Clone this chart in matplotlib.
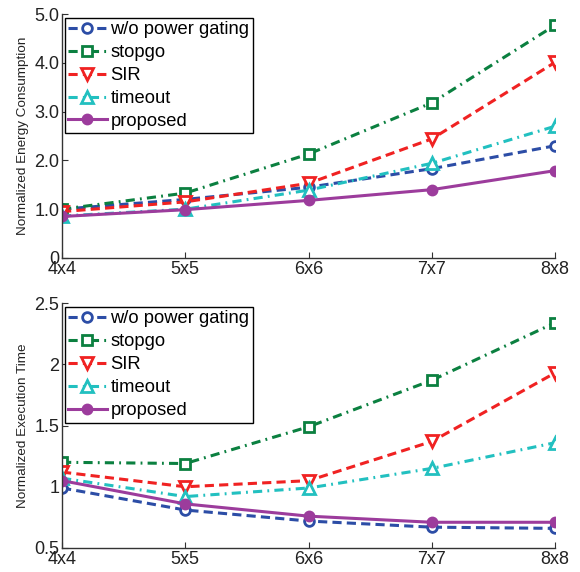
import matplotlib
matplotlib.use("Agg")
import matplotlib.pyplot as plt

categories = ["4x4", "5x5", "6x6", "7x7", "8x8"]
series_names = ["w/o power gating", "stopgo", "SIR", "timeout", "proposed"]

energy_wo = [1.00, 1.20, 1.45, 1.83, 2.30]
energy_stopgo = [1.00, 1.33, 2.13, 3.18, 4.77]
energy_sir = [0.95, 1.15, 1.53, 2.44, 4.01]
energy_timeout = [0.86, 1.00, 1.39, 1.94, 2.70]
energy_proposed = [0.85, 0.99, 1.18, 1.40, 1.79]

time_wo = [0.99, 0.81, 0.72, 0.67, 0.66]
time_stopgo = [1.20, 1.19, 1.49, 1.87, 2.34]
time_sir = [1.12, 1.00, 1.05, 1.37, 1.93]
time_timeout = [1.07, 0.92, 0.99, 1.15, 1.36]
time_proposed = [1.05, 0.86, 0.76, 0.71, 0.71]

energy_ticks = [0, 1, 2, 3, 4, 5]
energy_ticklabels = ["0", "1.0", "2.0", "3.0", "4.0", "5.0"]
time_ticks = [0.5, 1, 1.5, 2, 2.5]
time_ticklabels = ["0.5", "1", "1.5", "2", "2.5"]

plt.rcParams['font.family'] = ['Liberation Sans', 'DejaVu Sans']

colors = ["#2c4da6", "#0b8040", "#f02222", "#22c0c0", "#9c3c9c"]
styles = [(0, (3, 1.7)), (0, (3, 1.7, 0.6, 1.7)), (0, (3, 1.7)), (0, (3, 1.7, 0.6, 1.7)), "-"]
markers = ["o", "s", "v", "^", "o"]
filled = [False, False, False, False, True]
msizes = [7, 7, 9, 9, 6.5]

fig = plt.figure(figsize=(5.8, 5.72), dpi=100)
ax1 = fig.add_axes([0.107, 0.549, 0.850, 0.4265])
ax2 = fig.add_axes([0.107, 0.042, 0.850, 0.428])

x = list(range(len(categories)))

def draw(ax, data, ticks, ticklabels, ylim, ylabel):
    for name, vals, c, ls, m, f, ms in zip(series_names, data, colors, styles, markers, filled, msizes):
        ax.plot(x, vals, color=c, linestyle=ls, linewidth=2.2, marker=m,
                markersize=ms, markeredgewidth=2.0,
                markerfacecolor=(c if f else "white"), markeredgecolor=c,
                label=name)
    ax.set_xlim(0, len(categories) - 1)
    ax.set_ylim(*ylim)
    ax.set_xticks(x)
    ax.set_xticklabels(categories)
    ax.set_yticks(ticks)
    ax.set_yticklabels(ticklabels)
    ax.tick_params(direction="in", labelsize=13, length=4, color="#333333",
                   labelcolor="#222222", pad=2)
    for s in ["top", "right"]:
        ax.spines[s].set_visible(False)
    for s in ["left", "bottom"]:
        ax.spines[s].set_color("#333333")
        ax.spines[s].set_linewidth(1.0)
    ax.set_ylabel(ylabel, fontsize=9.7, labelpad=4, color="#222222")
    leg = ax.legend(loc="upper left", bbox_to_anchor=(0.005, 0.985), fontsize=13.2,
                    frameon=True, fancybox=False, edgecolor="black",
                    handlelength=2.1, handletextpad=0.2, labelspacing=0.32,
                    borderpad=0.2, borderaxespad=0.0, framealpha=1.0)
    leg.get_frame().set_linewidth(1.0)

draw(ax1, [energy_wo, energy_stopgo, energy_sir, energy_timeout, energy_proposed],
     energy_ticks, energy_ticklabels, (0, 5), "Normalized Energy Consumption")
draw(ax2, [time_wo, time_stopgo, time_sir, time_timeout, time_proposed],
     time_ticks, time_ticklabels, (0.5, 2.5), "Normalized Execution Time")

fig.savefig("out.png", dpi=100)
